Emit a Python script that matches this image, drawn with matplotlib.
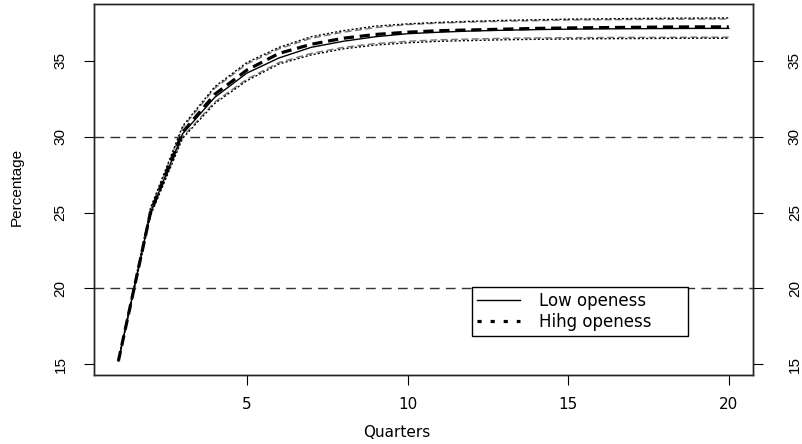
import numpy as np
import matplotlib
matplotlib.use('Agg')
import matplotlib.pyplot as plt
from matplotlib.lines import Line2D

plt.rcParams['font.family'] = ['DejaVu Sans']
narrow = ['Liberation Sans', 'DejaVu Sans']

# quarters and impulse responses (percentage)
quarters = list(range(1, 21))
low_mid = [15.2, 25.0, 30.2, 32.6, 34.2, 35.2, 35.9, 36.3, 36.6, 36.8,
           36.9, 36.98, 37.03, 37.07, 37.1, 37.12, 37.13, 37.14, 37.15, 37.15]
low_up = [15.2, 25.2, 30.6, 33.2, 34.8, 35.8, 36.5, 36.9, 37.2, 37.4,
          37.5, 37.57, 37.62, 37.66, 37.7, 37.72, 37.74, 37.75, 37.76, 37.77]
low_lo = [15.2, 24.9, 30.0, 32.3, 33.8, 34.9, 35.5, 35.9, 36.15, 36.3,
          36.4, 36.45, 36.5, 36.52, 36.54, 36.55, 36.56, 36.56, 36.57, 36.57]
high_mid = [15.2, 25.0, 30.3, 32.8, 34.4, 35.5, 36.1, 36.5, 36.75, 36.9,
            37.0, 37.05, 37.1, 37.15, 37.18, 37.2, 37.22, 37.24, 37.25, 37.25]
high_up = [15.2, 25.3, 30.7, 33.3, 34.9, 35.9, 36.6, 37.0, 37.3, 37.45,
           37.55, 37.62, 37.68, 37.72, 37.76, 37.78, 37.8, 37.82, 37.83, 37.84]
high_lo = [15.2, 24.8, 29.9, 32.2, 33.7, 34.8, 35.4, 35.8, 36.05, 36.2,
           36.3, 36.35, 36.4, 36.43, 36.45, 36.47, 36.48, 36.49, 36.5, 36.5]
ref_levels = [20, 30]
y_ticks = [15, 20, 25, 30, 35]
x_ticks = [5, 10, 15, 20]

fig = plt.figure(figsize=(8.03, 4.44), dpi=100)
ax = fig.add_axes([0.117, 0.155, 0.821, 0.836])

# reference lines
for lv in ref_levels:
    ax.axhline(lv, color='#333333', lw=1, dashes=(7, 4.5), zorder=1)

# low openess: solid centre, gray dashed bands
ax.plot(quarters, low_up, color='#777777', lw=1, dashes=(5, 2.5))
ax.plot(quarters, low_lo, color='#777777', lw=1, dashes=(5, 2.5))
ax.plot(quarters, low_mid, color='black', lw=1)
# high openess: thick dashed centre, dotted bands
ax.plot(quarters, high_up, color='black', lw=1, dashes=(1.5, 1.5))
ax.plot(quarters, high_lo, color='black', lw=1, dashes=(1.5, 1.5))
ax.plot(quarters, high_mid, color='black', lw=2.3, dashes=(3.2, 1.8))

ax.set_xlim(0.24, 20.76)
ax.set_ylim(14.27, 38.76)
ax.set_xticks(x_ticks)
ax.set_yticks(y_ticks)
ax.tick_params(axis='x', direction='out', length=7, labelsize=11, pad=9)
ax.tick_params(axis='y', direction='out', length=7, labelsize=11, pad=12)
for lab in ax.get_yticklabels():
    lab.set_rotation(90)
    lab.set_va('center')
    lab.set_family(narrow)

# right-hand axis repeats the y ticks
ax2 = ax.twinx()
ax2.set_ylim(ax.get_ylim())
ax2.set_yticks(y_ticks)
ax2.tick_params(axis='y', direction='out', length=7, labelsize=11, pad=18)
for lab in ax2.get_yticklabels():
    lab.set_rotation(90)
    lab.set_va('center')
    lab.set_family(narrow)

for a in (ax, ax2):
    for s in a.spines.values():
        s.set_linewidth(1)
        s.set_color('#222222')

fig.text(0.494, 0.027, 'Quarters', ha='center', va='center', fontsize=11)
fig.text(0.021, 0.58, 'Percentage', ha='center', va='center', fontsize=11,
         rotation=90, family=narrow)

handles = [Line2D([], [], color='black', lw=1),
           Line2D([], [], color='black', lw=2.3, dashes=(1.3, 2.8))]
leg = ax2.legend(handles, ['Low openess', 'Hihg openess'],
                 loc='upper left', bbox_to_anchor=(0.5736, 0.113, 0.328, 0.124),
                 mode='expand', fontsize=12, handlelength=2.6, handletextpad=1.1,
                 borderpad=0.3, labelspacing=0.15, fancybox=False,
                 framealpha=1, edgecolor='black', borderaxespad=0)
leg.get_frame().set_linewidth(1)

fig.savefig('out.png', dpi=100)
